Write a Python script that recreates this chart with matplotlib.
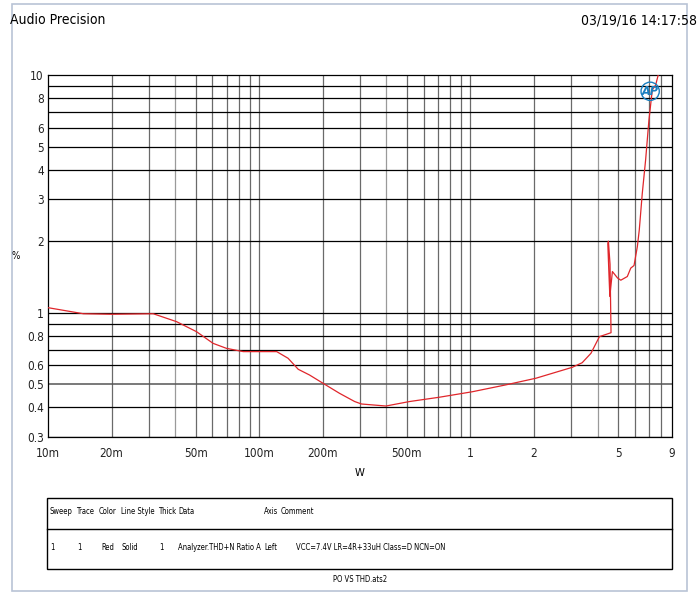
import matplotlib
matplotlib.use("Agg")
import matplotlib.pyplot as plt
from matplotlib.patches import Rectangle
from matplotlib.lines import Line2D

plt.rcParams['font.family'] = ['DejaVu Sans']
plt.rcParams['font.stretch'] = 'condensed'

# ---- data (output power W, THD+N %) ----
power_w = [0.010, 0.0147, 0.020, 0.0315, 0.0406, 0.0505, 0.0605, 0.070, 0.084,
           0.121, 0.137, 0.153, 0.173, 0.204, 0.240, 0.283, 0.305, 0.398, 0.515,
           0.713, 1.02, 1.47, 2.04, 3.03, 3.38, 3.72, 4.08, 4.63, 4.58, 4.50,
           4.47, 4.52, 4.57, 4.70, 4.97, 5.15, 5.53, 5.74, 5.95, 6.17, 6.30,
           6.51, 6.75, 7.00, 7.26, 7.53, 7.81]
thd_pct = [1.05, 0.99, 0.985, 0.99, 0.917, 0.832, 0.743, 0.708, 0.686,
           0.686, 0.643, 0.578, 0.547, 0.500, 0.458, 0.423, 0.413, 0.405, 0.423,
           0.441, 0.465, 0.497, 0.530, 0.589, 0.616, 0.675, 0.793, 0.824, 1.60, 2.00,
           1.95, 1.50, 1.17, 1.49, 1.40, 1.37, 1.42, 1.54, 1.58, 1.90, 2.23,
           3.18, 4.39, 6.47, 8.65, 9.07, 10.3]

x_ticks = [0.01, 0.02, 0.05, 0.1, 0.2, 0.5, 1, 2, 5, 9]
x_labels = ['10m', '20m', '50m', '100m', '200m', '500m', '1', '2', '5', '9']
y_ticks = [0.3, 0.4, 0.5, 0.6, 0.8, 1, 2, 3, 4, 5, 6, 8, 10]
y_labels = ['0.3', '0.4', '0.5', '0.6', '0.8', '1', '2', '3', '4', '5', '6', '8', '10']

x_grid = [m * d for d in (0.01, 0.1, 1) for m in range(1, 10)] + [9]
y_grid = [m * d for d in (0.1, 1) for m in range(3 if d == 0.1 else 1, 10)] + [10]

headers = ['Sweep', 'Trace', 'Color', 'Line Style', 'Thick', 'Data', 'Axis', 'Comment']
header_x = [50, 76, 99, 121, 158, 178, 264, 281]
row = ['1', '1', 'Red', 'Solid', '1', 'Analyzer.THD+N Ratio A', 'Left',
       'VCC=7.4V LR=4R+33uH Class=D NCN=ON']
row_x = [50, 77, 101, 122, 159, 178, 264, 296]

W, H = 700, 595
fig = plt.figure(figsize=(7.0, 5.95), dpi=100)
fig.patch.set_facecolor('white')

ax = fig.add_axes([48 / W, 1 - 437 / H, (672 - 48) / W, (437 - 75) / H])
ax.set_xscale('log')
ax.set_yscale('log')
ax.set_xlim(0.01, 9)
ax.set_ylim(0.3, 10)

for xv in x_grid:
    if 0.01 < xv < 9:
        light = abs(xv / 10 ** round(__import__('math').log10(xv)) - 0.4) < 1e-6 or \
            any(abs(xv - v) < 1e-9 for v in (0.04, 0.4, 4))
        ax.axvline(xv, color='#9a9a9a' if light else '#6a6a6a', lw=0.9, zorder=1)
for yv in y_grid:
    if 0.3 < yv < 10:
        ax.axhline(yv, color='#555555' if abs(yv - 0.5) < 1e-9 else '#000000',
                   lw=1.1 if abs(yv - 0.5) < 1e-9 else 0.9, zorder=1)

ax.plot(power_w, thd_pct, color='#e0262b', lw=0.9, zorder=3, clip_on=True)

ax.set_xticks(x_ticks)
ax.set_xticklabels(x_labels)
ax.set_yticks(y_ticks)
ax.set_yticklabels(y_labels)
ax.minorticks_off()
ax.tick_params(axis='both', length=0, labelsize=8.5, colors='#222222')
ax.tick_params(axis='x', pad=7)
ax.tick_params(axis='y', pad=3)
for s in ax.spines.values():
    s.set_color('#000000')
    s.set_linewidth(0.9)

ax.text(0.5, -0.085, 'W', transform=ax.transAxes, ha='center', va='top', fontsize=8)
fig.text(16 / W, 1 - 256 / H, '%', ha='center', va='center', fontsize=7)

# AP logo
ax.text(0.965, 0.955, 'AP', transform=ax.transAxes, ha='center', va='center',
        fontsize=9, color='#1a7fc0', style='italic', fontweight='bold',
        bbox=dict(boxstyle='circle,pad=0.05', fc='none', ec='#1a7fc0', lw=1.0), zorder=5)

# header texts
fig.text(10 / W, 1 - 20 / H, 'Audio Precision', ha='left', va='center', fontsize=10)
fig.text(697 / W, 1 - 20 / H, '03/19/16 14:17:58', ha='right', va='center', fontsize=10)

# outer border
fig.add_artist(Rectangle((12 / W, 1 - 591 / H), (687 - 12) / W, (591 - 4) / H,
                         transform=fig.transFigure, fill=False, ec='#b9c3d6', lw=1.2))

# legend table
fig.add_artist(Rectangle((47 / W, 1 - 569 / H), (672 - 47) / W, (569 - 498) / H,
                         transform=fig.transFigure, fill=False, ec='#000000', lw=1.0))
fig.add_artist(Line2D([47 / W, 672 / W], [1 - 529 / H, 1 - 529 / H],
                      transform=fig.transFigure, color='#000000', lw=1.0))
for t, xx in zip(headers, header_x):
    fig.text(xx / W, 1 - 511 / H, t, ha='left', va='center', fontsize=5.5)
for t, xx in zip(row, row_x):
    fig.text(xx / W, 1 - 548 / H, t, ha='left', va='center', fontsize=5.5)
fig.text(360 / W, 1 - 580 / H, 'PO VS THD.ats2', ha='center', va='center', fontsize=5.5)

fig.savefig('out.png', dpi=100)
